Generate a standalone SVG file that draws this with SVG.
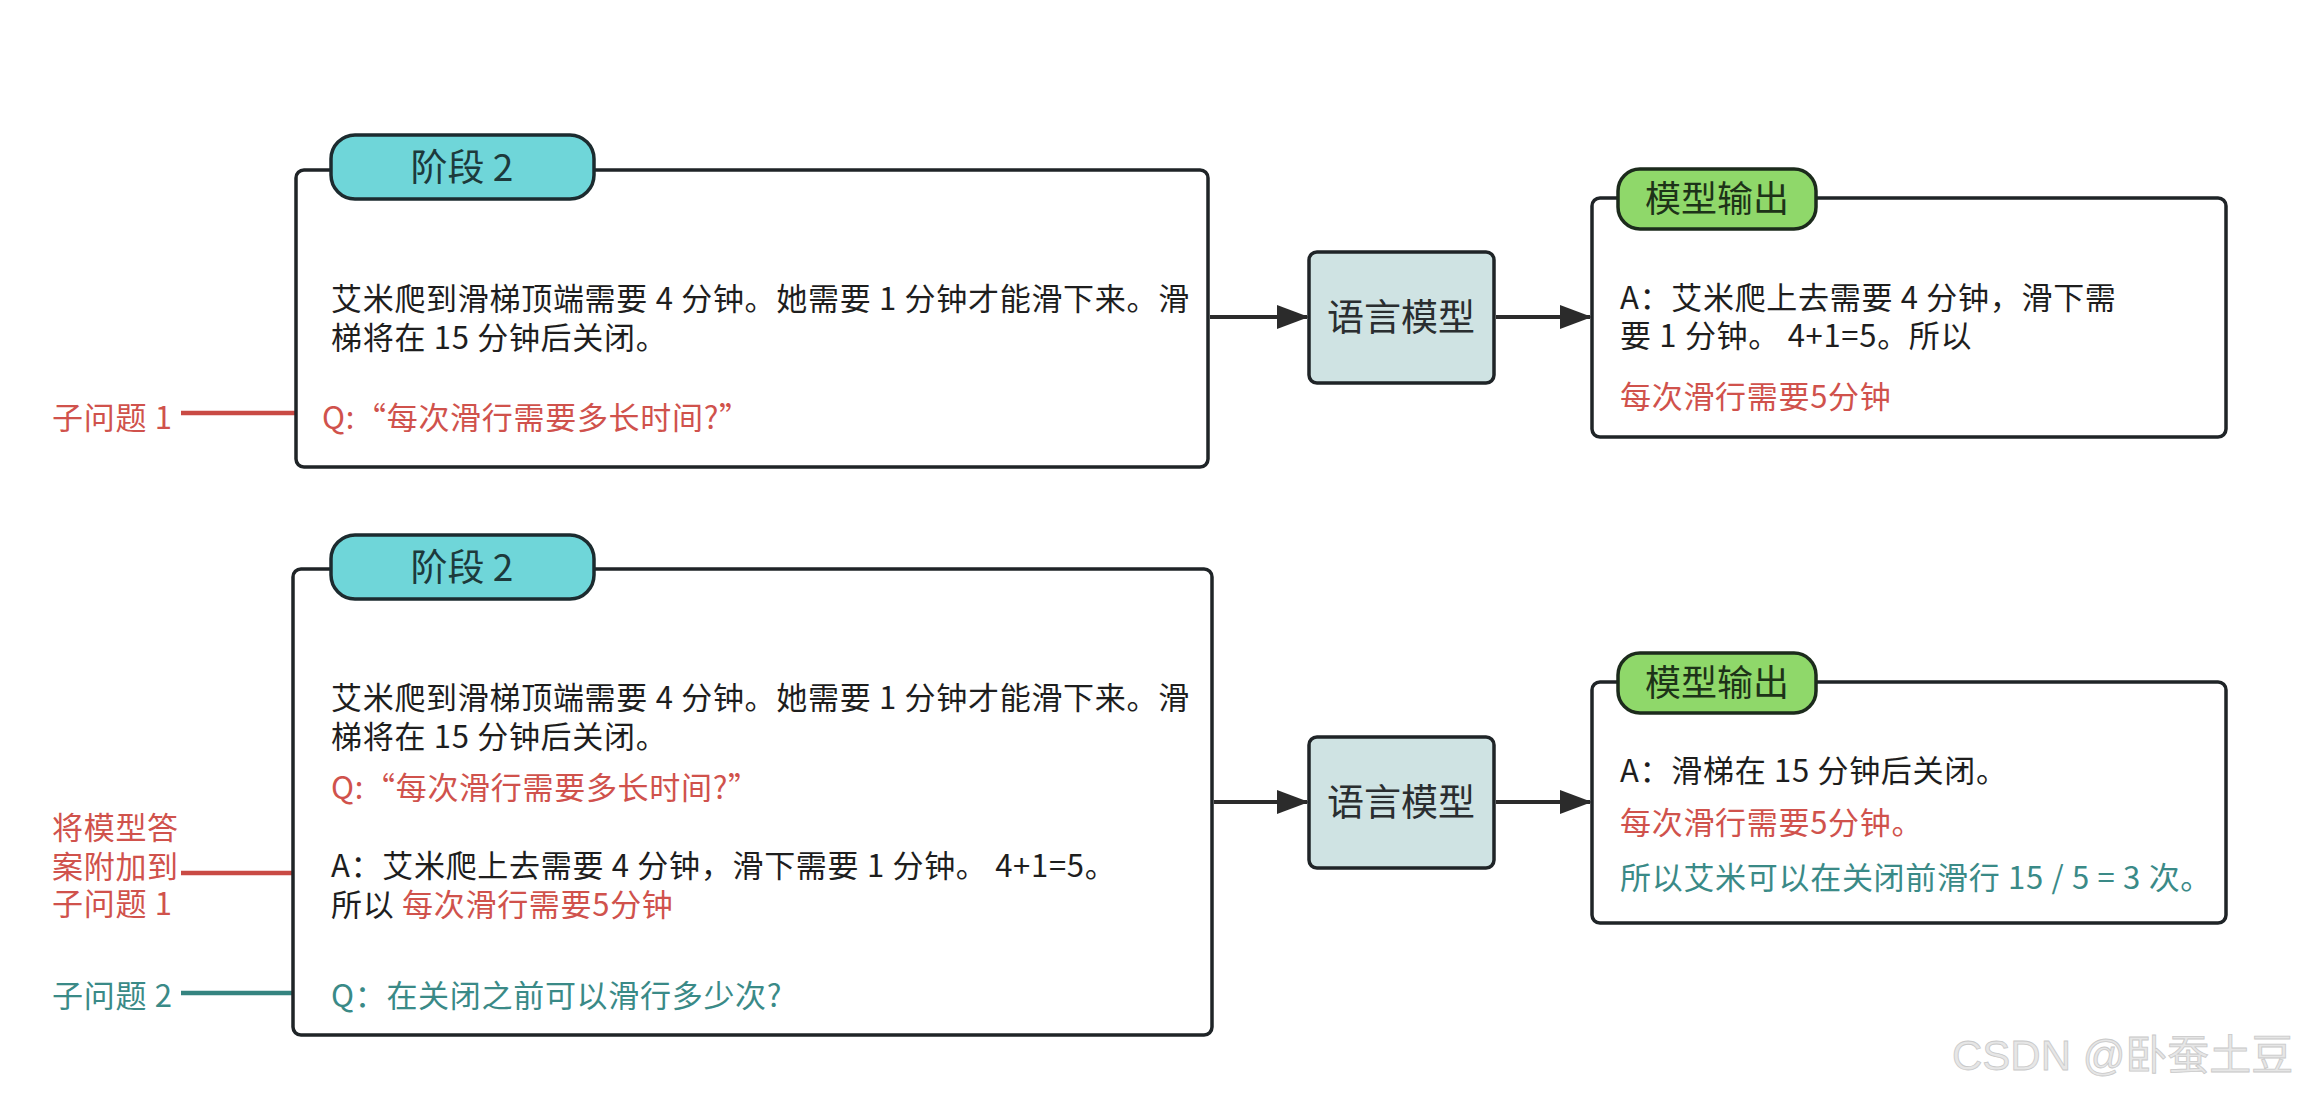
<svg xmlns="http://www.w3.org/2000/svg" width="2309" height="1095" viewBox="0 0 2309 1095">
<defs>
<marker id="ah" markerWidth="8" markerHeight="6" refX="7.5" refY="3" orient="auto" markerUnits="strokeWidth">
<path d="M0,0 L8,3 L0,6 Z" fill="#2b2b2b"/>
</marker>
<style>
text{font-family:"Noto Sans CJK SC","Noto Sans",sans-serif;}
.frame{fill:#ffffff;stroke:#1f2427;stroke-width:3.5;}
.tabS{fill:#6fd6d9;stroke:#1c2b2f;stroke-width:3.5;}
.tabO{fill:#8fd86a;stroke:#1c2b1c;stroke-width:3.5;}
.lm{fill:#cfe3e3;stroke:#1f2427;stroke-width:3.5;}
.tabt{font-size:37px;fill:#1d3a3c;text-anchor:middle;}
.tabto{font-size:36px;fill:#1d3318;text-anchor:middle;}
.lmt{font-size:37px;fill:#2a2e30;text-anchor:middle;}
.b{font-size:31px;fill:#1e1e1e;letter-spacing:0.7px;}
.r{font-size:31px;fill:#d0524c;letter-spacing:0.7px;}
.t{font-size:31px;fill:#3a8a87;letter-spacing:0.7px;}
.edge{stroke:#2b2b2b;stroke-width:4;fill:none;}
.lr{stroke:#c94a44;stroke-width:4.5;}
.lt{stroke:#358480;stroke-width:4.5;}
.wm{font-family:"Liberation Sans","Noto Sans CJK SC",sans-serif;font-size:42px;fill:#e6e6e6;stroke:#c9c9c9;stroke-width:0.8;}
</style>
</defs>
<rect width="2309" height="1095" fill="#ffffff"/>

<g id="connectors">
<line class="edge" x1="1210" y1="317" x2="1307" y2="317" marker-end="url(#ah)"/>
<line class="edge" x1="1496" y1="317" x2="1590" y2="317" marker-end="url(#ah)"/>
<line class="edge" x1="1214" y1="802" x2="1307" y2="802" marker-end="url(#ah)"/>
<line class="edge" x1="1496" y1="802" x2="1590" y2="802" marker-end="url(#ah)"/>
<line class="lr" x1="181" y1="413" x2="307" y2="413"/>
<line class="lr" x1="181" y1="873" x2="307" y2="873"/>
<line class="lt" x1="181" y1="993" x2="307" y2="993"/>
</g>

<g id="stage1">
<rect class="frame" x="296" y="170" width="912" height="297" rx="8"/>
<rect class="tabS" x="331" y="135" width="263" height="64" rx="24"/>
<text class="tabt" x="462" y="181">阶段 2</text>
<text class="b" x="331" y="310">艾米爬到滑梯顶端需要 4 分钟。她需要 1 分钟才能滑下来。滑</text>
<text class="b" x="331" y="349">梯将在 15 分钟后关闭。</text>
<text class="r" x="322" y="429">Q:“每次滑行需要多长时间?”</text>
</g>

<g id="label-sub1">
<text class="r" x="52" y="429">子问题 1</text>
</g>

<g id="lm1">
<rect class="lm" x="1309" y="252" width="185" height="131" rx="8"/>
<text class="lmt" x="1401" y="331">语言模型</text>
</g>

<g id="out1">
<rect class="frame" x="1592" y="198" width="634" height="239" rx="8"/>
<rect class="tabO" x="1618" y="169" width="198" height="60" rx="22"/>
<text class="tabto" x="1717" y="212">模型输出</text>
<text class="b" x="1620" y="309">A：艾米爬上去需要 4 分钟，滑下需</text>
<text class="b" x="1620" y="347">要 1 分钟。 4+1=5。所以</text>
<text class="r" x="1620" y="408">每次滑行需要5分钟</text>
</g>

<g id="stage2">
<rect class="frame" x="293" y="569" width="919" height="466" rx="8"/>
<rect class="tabS" x="331" y="535" width="263" height="64" rx="24"/>
<text class="tabt" x="462" y="581">阶段 2</text>
<text class="b" x="331" y="709">艾米爬到滑梯顶端需要 4 分钟。她需要 1 分钟才能滑下来。滑</text>
<text class="b" x="331" y="748">梯将在 15 分钟后关闭。</text>
<text class="r" x="331" y="799">Q:“每次滑行需要多长时间?”</text>
<text class="b" x="331" y="877">A：艾米爬上去需要 4 分钟，滑下需要 1 分钟。 4+1=5。</text>
<text class="b" x="331" y="916">所以 <tspan fill="#d0524c">每次滑行需要5分钟</tspan></text>
<text class="t" x="331" y="1007">Q：在关闭之前可以滑行多少次?</text>
</g>

<g id="label-append">
<text class="r" x="52" y="839">将模型答</text>
<text class="r" x="52" y="878">案附加到</text>
<text class="r" x="52" y="915">子问题 1</text>
</g>

<g id="label-sub2">
<text class="t" x="52" y="1007">子问题 2</text>
</g>

<g id="lm2">
<rect class="lm" x="1309" y="737" width="185" height="131" rx="8"/>
<text class="lmt" x="1401" y="816">语言模型</text>
</g>

<g id="out2">
<rect class="frame" x="1592" y="682" width="634" height="241" rx="8"/>
<rect class="tabO" x="1618" y="653" width="198" height="60" rx="22"/>
<text class="tabto" x="1717" y="696">模型输出</text>
<text class="b" x="1620" y="782">A：滑梯在 15 分钟后关闭。</text>
<text class="r" x="1620" y="834">每次滑行需要5分钟。</text>
<text class="t" x="1620" y="889">所以艾米可以在关闭前滑行 15 / 5 = 3 次。</text>
</g>

<text class="wm" x="1952" y="1070">CSDN @卧蚕土豆</text>
</svg>
